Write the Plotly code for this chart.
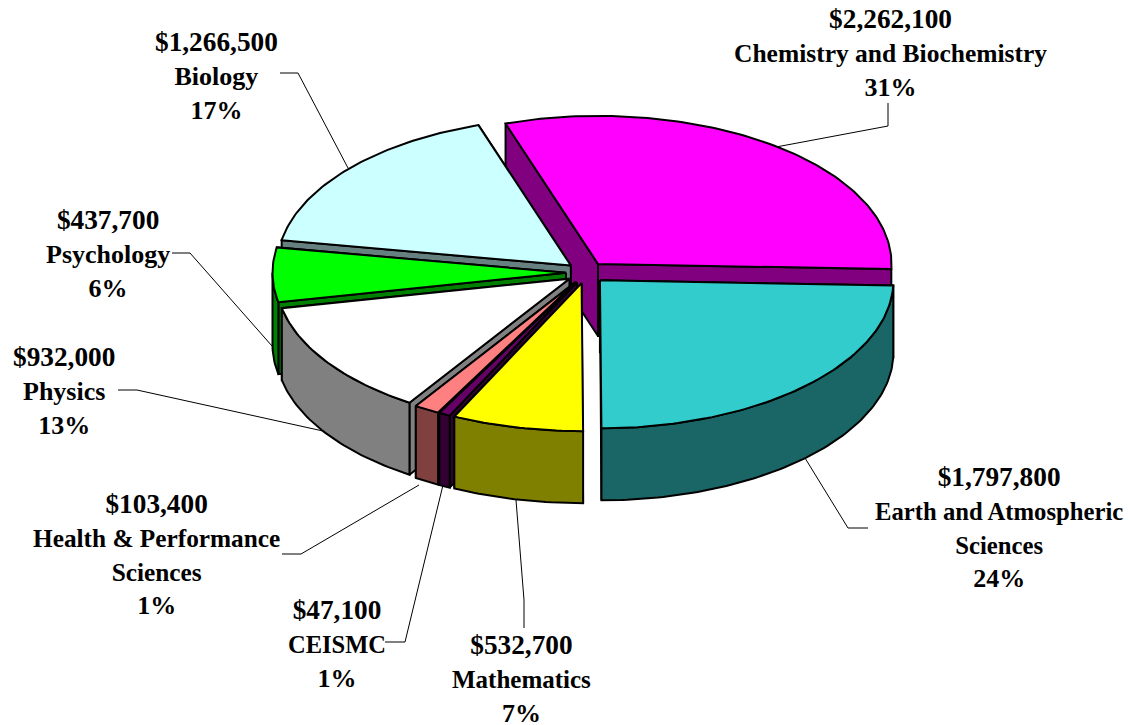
import math
import plotly.graph_objects as go

# ---- data (counter-clockwise from the right-hand edge of the pie) ----
categories = ["Chemistry and Biochemistry", "Biology", "Psychology", "Physics",
              "Health & Performance<br>Sciences", "CEISMC", "Mathematics",
              "Earth and Atmospheric<br>Sciences"]
values = [2262100, 1266500, 437700, 932000, 103400, 47100, 532700, 1797800]

# ---- style ----
top_colors = ["#FF00FF", "#CCFFFF", "#00FF00", "#FFFFFF", "#FF8080", "#660066", "#FFFF00", "#33CCCC"]
side_colors = ["#800080", "#668080", "#008000", "#808080", "#804040", "#330033", "#808000", "#1A6666"]
CX, CY, RX, RY, DEPTH = 586, 272.6, 293.5, 148, 72
EXPLODE_X, EXPLODE_Y = 20, 10.8
START_DEG = -2
LINE = dict(color="#000000", width=2)
FONT = dict(family="Liberation Serif", size=26, color="#000000")
NUMBER_SIZE = 27.3
PERCENT_SIZE = 26
name_sizes = [25.5, 26, 26, 26, 25.3, 24.5, 25, 24.7]

label_pos = [(890, 53), (216, 75.5), (108, 253.5), (64, 391), (156, 554), (337, 644), (521, 679), (999, 527.5)]
leaders = [
    [(888, 103), (888, 126), (776, 147)],
    [(280, 73), (298, 73), (348, 168)],
    [(172, 253), (190, 253), (272, 346)],
    [(118, 390), (137, 390), (323, 431)],
    [(282, 554), (301, 554), (419, 485)],
    [(385, 642), (405, 642), (443, 485)],
    [(524, 628), (524, 600), (516, 500)],
    [(868, 528), (848, 528), (805, 458)],
]

total = sum(values)
fig = go.Figure()


def poly(pts, fill):
    fig.add_trace(go.Scatter(x=[p[0] for p in pts], y=[p[1] for p in pts], mode="lines",
                             fill="toself", fillcolor=fill, line=LINE, hoverinfo="skip",
                             showlegend=False))


def rim(cx, cy, t):
    r = math.radians(t)
    return (cx + RX * math.cos(r), cy - RY * math.sin(r))


for seg in leaders:
    fig.add_trace(go.Scatter(x=[p[0] for p in seg], y=[p[1] for p in seg], mode="lines",
                             line=dict(color="#000000", width=1), hoverinfo="skip", showlegend=False))

# painted back to front, in data order
a = START_DEG
for i, v in enumerate(values):
    b = a + 360 * v / total
    mid = math.radians((a + b) / 2)
    cx = CX + EXPLODE_X * math.cos(mid)
    cy = CY - EXPLODE_Y * math.sin(mid)
    n = max(3, int(abs(b - a)))
    arc = [a + (b - a) * k / n for k in range(n + 1)]
    # cut faces
    for t in (a, b):
        p = rim(cx, cy, t)
        poly([(cx, cy), p, (p[0], p[1] + DEPTH), (cx, cy + DEPTH), (cx, cy)], side_colors[i])
    # outer rim, front half only
    front = [t for t in arc if 180 <= t <= 360]
    if a < 180 < b:
        front = [180] + front
    if len(front) > 1:
        upper = [rim(cx, cy, t) for t in front]
        lower = [(x, y + DEPTH) for x, y in reversed(upper)]
        poly(upper + lower + [upper[0]], side_colors[i])
    # top
    poly([(cx, cy)] + [rim(cx, cy, t) for t in arc] + [(cx, cy)], top_colors[i])
    a = b

for name, v, pos, size in zip(categories, values, label_pos, name_sizes):
    lines = name.split("<br>")
    name_html = "<br>".join(f'<span style="font-size:{size}px">{s}</span>' for s in lines)
    fig.add_annotation(x=pos[0], y=pos[1], xref="x", yref="y", showarrow=False, align="center",
                       xanchor="center", yanchor="middle", font=FONT,
                       text=(f'<b><span style="font-size:{NUMBER_SIZE}px">${v:,}</span><br>{name_html}<br>'
                             f'<span style="font-size:{PERCENT_SIZE}px">{round(100 * v / total)}%</span></b>'))

fig.update_layout(width=1130, height=725, margin=dict(l=0, r=0, t=0, b=0), showlegend=False,
                  paper_bgcolor="#FFFFFF", plot_bgcolor="#FFFFFF",
                  xaxis=dict(range=[0, 1130], visible=False, fixedrange=True),
                  yaxis=dict(range=[725, 0], visible=False, fixedrange=True))
fig.write_html("out.html", post_script="document.body.style.margin='0';",
               config={"displayModeBar": False})
